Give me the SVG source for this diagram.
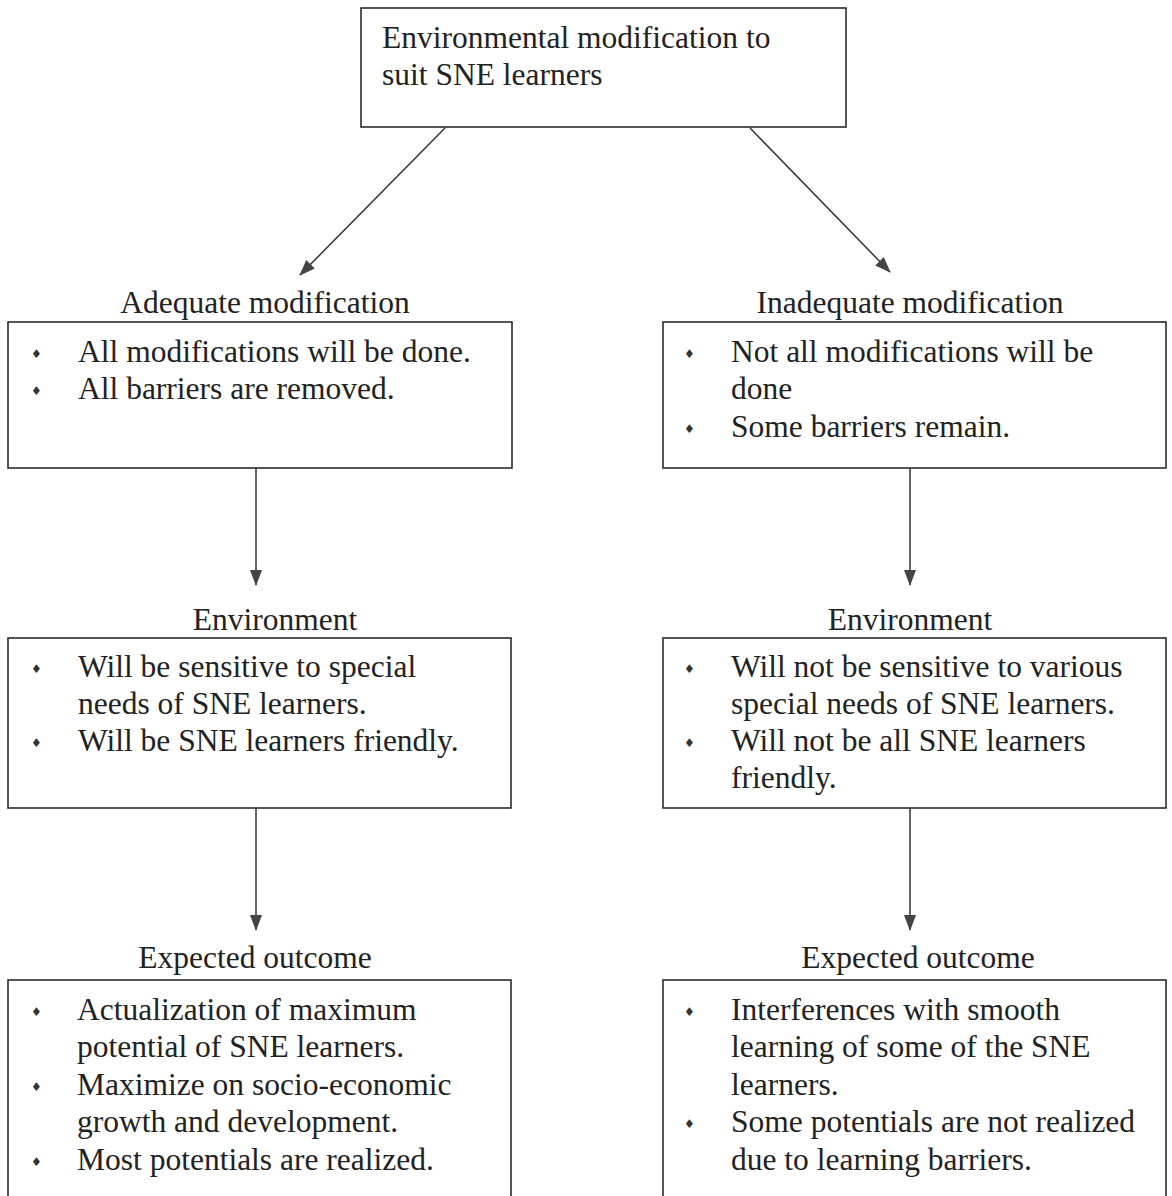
<svg xmlns="http://www.w3.org/2000/svg" width="1172" height="1196" viewBox="0 0 1172 1196">
<style>
.box{fill:none;stroke:#2b2b2b;stroke-width:1.6}
.t{font-family:"Liberation Serif","Times New Roman",serif;font-size:31.5px;fill:#222}
.c{text-anchor:middle}
.b{font-family:"DejaVu Sans",sans-serif;font-size:12px;fill:#333}
.ln{stroke:#333;stroke-width:1.5;fill:none}
</style>
<defs>
<marker id="ah" viewBox="0 0 16 12" refX="15" refY="6" markerWidth="16" markerHeight="12" markerUnits="userSpaceOnUse" orient="auto">
<path d="M0,0 L16,6 L0,12 Z" fill="#444"/>
</marker>
</defs>
<rect width="1172" height="1196" fill="#fff"/>
<g id="connectors">
<line class="ln" x1="445" y1="128" x2="300" y2="275" marker-end="url(#ah)"/>
<line class="ln" x1="750" y1="128" x2="890" y2="272" marker-end="url(#ah)"/>
<line class="ln" x1="256" y1="468" x2="256" y2="585" marker-end="url(#ah)"/>
<line class="ln" x1="910" y1="468" x2="910" y2="585" marker-end="url(#ah)"/>
<line class="ln" x1="256" y1="808" x2="256" y2="930" marker-end="url(#ah)"/>
<line class="ln" x1="910" y1="808" x2="910" y2="930" marker-end="url(#ah)"/>
</g>
<g id="top">
<rect class="box" x="361" y="8" width="485" height="119"/>
<text class="t" x="382" y="48">Environmental modification to</text>
<text class="t" x="382" y="85">suit SNE learners</text>
</g>
<g id="adequate">
<text class="t c" x="265" y="313">Adequate modification</text>
<rect class="box" x="8" y="322" width="504" height="146"/>
<text class="b" x="31" y="358">♦</text><text class="t" x="78" y="362">All modifications will be done.</text>
<text class="b" x="31" y="395">♦</text><text class="t" x="78" y="399">All barriers are removed.</text>
</g>
<g id="inadequate">
<text class="t c" x="910" y="313">Inadequate modification</text>
<rect class="box" x="663" y="322" width="503" height="146"/>
<text class="b" x="684" y="358">♦</text><text class="t" x="731" y="362">Not all modifications will be</text>
<text class="t" x="731" y="399">done</text>
<text class="b" x="684" y="433">♦</text><text class="t" x="731" y="437">Some barriers remain.</text>
</g>
<g id="env-left">
<text class="t c" x="275" y="630">Environment</text>
<rect class="box" x="8" y="638" width="503" height="170"/>
<text class="b" x="31" y="673">♦</text><text class="t" x="78" y="677">Will be sensitive to special</text>
<text class="t" x="78" y="714">needs of SNE learners.</text>
<text class="b" x="31" y="747">♦</text><text class="t" x="78" y="751">Will be SNE learners friendly.</text>
</g>
<g id="env-right">
<text class="t c" x="910" y="630">Environment</text>
<rect class="box" x="663" y="638" width="503" height="170"/>
<text class="b" x="684" y="673">♦</text><text class="t" x="731" y="677">Will not be sensitive to various</text>
<text class="t" x="731" y="714">special needs of SNE learners.</text>
<text class="b" x="684" y="747">♦</text><text class="t" x="731" y="751">Will not be all SNE learners</text>
<text class="t" x="731" y="788">friendly.</text>
</g>
<g id="outcome-left">
<text class="t c" x="255" y="968">Expected outcome</text>
<rect class="box" x="8" y="980" width="503" height="240"/>
<text class="b" x="31" y="1016">♦</text><text class="t" x="77" y="1020">Actualization of maximum</text>
<text class="t" x="77" y="1057">potential of SNE learners.</text>
<text class="b" x="31" y="1091">♦</text><text class="t" x="77" y="1095">Maximize on socio-economic</text>
<text class="t" x="77" y="1132">growth and development.</text>
<text class="b" x="31" y="1166">♦</text><text class="t" x="77" y="1170">Most potentials are realized.</text>
</g>
<g id="outcome-right">
<text class="t c" x="918" y="968">Expected outcome</text>
<rect class="box" x="663" y="980" width="503" height="240"/>
<text class="b" x="684" y="1016">♦</text><text class="t" x="731" y="1020">Interferences with smooth</text>
<text class="t" x="731" y="1057">learning of some of the SNE</text>
<text class="t" x="731" y="1095">learners.</text>
<text class="b" x="684" y="1128">♦</text><text class="t" x="731" y="1132">Some potentials are not realized</text>
<text class="t" x="731" y="1170">due to learning barriers.</text>
</g>
</svg>
